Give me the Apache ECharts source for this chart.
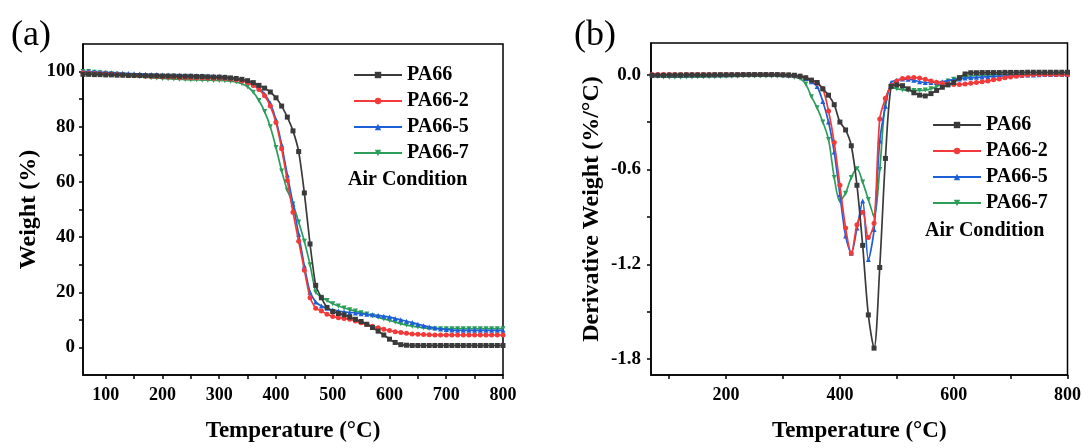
<!DOCTYPE html>
<html>
<head>
<meta charset="utf-8">
<script src="https://cdn.jsdelivr.net/npm/echarts@6/dist/echarts.min.js"></script>
<style>
html,body{margin:0;padding:0;background:#fff;}
#chart{width:1084px;height:448px;}
</style>
</head>
<body>
<div id="chart"></div>
<script>
// ---------- DATA ----------
const seriesNames = ['PA66', 'PA66-2', 'PA66-5', 'PA66-7'];

// (a) TGA: temperature (°C) and weight (%)
const tgaT = [60,70,80,90,100,110,120,130,140,150,
  160,170,180,190,200,210,220,230,240,250,
  260,270,280,290,300,310,320,330,340,350,
  360,370,380,390,400,410,420,430,440,450,
  460,470,480,490,500,510,520,530,540,550,
  560,570,580,590,600,610,620,630,640,650,
  660,670,680,690,700,710,720,730,740,750,
  760,770,780,790,800];
const tgaPA66 = [99.0,99.0,98.9,98.9,98.8,98.8,98.7,98.7,98.6,98.6,
  98.6,98.5,98.5,98.5,98.4,98.4,98.4,98.3,98.3,98.3,
  98.2,98.2,98.1,98.0,98.0,97.9,97.7,97.5,97.2,96.7,
  96.0,95.0,94.0,92.6,90.5,87.5,83.5,78.5,71.0,56.0,
  37.5,22.5,18.0,14.5,13.0,12.3,11.8,11.0,10.2,9.4,
  8.4,7.2,5.9,4.5,3.0,1.8,1.0,0.8,0.7,0.7,
  0.7,0.7,0.7,0.7,0.7,0.7,0.7,0.7,0.7,0.7,
  0.7,0.7,0.7,0.7,0.7];
const tgaPA66_2 = [99.5,99.4,99.3,99.2,99.1,99.0,98.9,98.8,98.7,98.6,
  98.5,98.4,98.3,98.2,98.1,98.0,98.0,97.9,97.9,97.8,
  97.8,97.7,97.7,97.6,97.6,97.5,97.3,97.0,96.6,96.0,
  95.0,93.5,91.2,87.5,81.5,72.0,60.5,49.0,38.5,28.0,
  18.0,14.2,13.2,12.0,11.2,10.8,10.5,10.2,9.6,8.9,
  8.3,7.7,7.1,6.6,6.1,5.7,5.4,5.1,4.9,4.8,
  4.7,4.6,4.5,4.5,4.5,4.5,4.5,4.5,4.5,4.5,
  4.5,4.5,4.5,4.5,4.5];
const tgaPA66_5 = [100.0,100.0,99.9,99.8,99.7,99.6,99.5,99.4,99.3,99.2,
  99.1,99.0,98.9,98.9,98.8,98.8,98.7,98.7,98.6,98.6,
  98.5,98.5,98.4,98.3,98.2,98.0,97.8,97.5,97.0,96.4,
  95.5,94.0,91.8,88.5,82.5,73.5,62.5,52.0,41.0,29.5,
  20.0,16.5,15.0,14.2,13.6,13.2,12.9,12.7,12.5,12.2,
  12.0,11.8,11.6,11.3,11.0,10.5,10.0,9.5,9.0,8.4,
  7.9,7.4,7.0,6.7,6.5,6.3,6.2,6.2,6.2,6.2,
  6.2,6.2,6.2,6.2,6.2];
const tgaPA66_7 = [100.0,100.0,99.8,99.6,99.4,99.2,99.0,98.8,98.6,98.4,
  98.2,98.0,97.8,97.7,97.5,97.4,97.3,97.2,97.1,97.0,
  97.0,96.9,96.9,96.8,96.8,96.7,96.5,96.2,95.6,94.5,
  92.5,89.5,85.5,80.0,72.5,64.0,57.0,52.0,45.5,38.5,
  30.0,20.0,18.2,17.0,15.8,15.0,14.3,13.7,13.2,12.6,
  12.1,11.5,10.9,10.3,9.8,9.2,8.6,8.1,7.7,7.4,
  7.1,6.9,6.8,6.8,6.8,6.8,6.8,6.8,6.8,6.8,
  6.8,6.8,6.8,6.8,6.8];

// (b) DTG: temperature (°C) and derivative weight (%/°C)
const dtgT = [70,80,90,100,110,120,130,140,150,160,
  170,180,190,200,210,220,230,240,250,260,
  270,280,290,300,310,320,330,340,350,360,
  370,380,390,400,410,420,430,440,450,460,
  470,480,490,500,510,520,530,540,550,560,
  570,580,590,600,610,620,630,640,650,660,
  670,680,690,700,710,720,730,740,750,760,
  770,780,790,800];
const dtgPA66 = [-0.005,-0.004,-0.004,-0.003,-0.003,-0.003,-0.002,-0.002,-0.002,-0.002,
  -0.002,-0.001,-0.001,-0.001,-0.001,-0.001,0.000,0.000,0.000,0.000,
  0.000,0.000,0.000,-0.001,-0.002,-0.004,-0.010,-0.020,-0.035,-0.050,
  -0.090,-0.130,-0.190,-0.300,-0.350,-0.450,-0.700,-1.080,-1.520,-1.730,
  -1.220,-0.530,-0.075,-0.065,-0.070,-0.090,-0.115,-0.130,-0.135,-0.120,
  -0.100,-0.080,-0.065,-0.050,-0.020,0.004,0.012,0.012,0.013,0.013,
  0.013,0.013,0.014,0.014,0.014,0.014,0.015,0.015,0.015,0.015,
  0.015,0.015,0.015,0.015];
const dtgPA66_2 = [0.000,0.000,0.000,0.000,0.000,0.000,0.000,0.000,0.000,0.000,
  0.000,0.000,0.000,0.000,0.000,0.000,0.000,0.000,0.000,0.000,
  0.000,0.000,-0.001,-0.001,-0.002,-0.005,-0.010,-0.020,-0.035,-0.055,
  -0.090,-0.230,-0.430,-0.700,-0.970,-1.130,-0.950,-0.870,-1.030,-0.940,
  -0.280,-0.150,-0.070,-0.040,-0.025,-0.020,-0.018,-0.022,-0.030,-0.040,
  -0.048,-0.055,-0.060,-0.062,-0.062,-0.060,-0.055,-0.050,-0.045,-0.040,
  -0.033,-0.027,-0.020,-0.015,-0.010,-0.006,-0.003,0.000,0.000,0.000,
  0.000,0.000,0.000,0.000];
const dtgPA66_5 = [-0.002,-0.002,-0.002,-0.002,-0.002,-0.002,-0.002,-0.002,-0.001,-0.001,
  -0.001,-0.001,-0.001,-0.001,0.000,0.000,0.000,0.000,0.000,0.000,
  0.000,0.000,0.000,-0.001,-0.003,-0.006,-0.012,-0.025,-0.045,-0.075,
  -0.170,-0.300,-0.490,-0.760,-1.020,-1.130,-0.970,-0.800,-1.170,-0.980,
  -0.420,-0.200,-0.050,-0.035,-0.028,-0.030,-0.035,-0.045,-0.050,-0.050,
  -0.050,-0.045,-0.038,-0.032,-0.027,-0.022,-0.020,-0.017,-0.015,-0.013,
  -0.011,-0.010,-0.008,-0.006,-0.005,-0.004,-0.003,-0.002,-0.001,0.000,
  0.000,0.000,0.000,0.000];
const dtgPA66_7 = [-0.008,-0.012,-0.015,-0.016,-0.016,-0.016,-0.015,-0.015,-0.014,-0.014,
  -0.013,-0.013,-0.012,-0.011,-0.010,-0.010,-0.009,-0.009,-0.008,-0.008,
  -0.008,-0.008,-0.009,-0.010,-0.012,-0.016,-0.025,-0.060,-0.140,-0.210,
  -0.300,-0.410,-0.650,-0.800,-0.750,-0.650,-0.595,-0.680,-0.790,-0.895,
  -0.600,-0.170,-0.080,-0.090,-0.095,-0.100,-0.100,-0.100,-0.098,-0.090,
  -0.075,-0.055,-0.040,-0.030,-0.020,-0.012,-0.008,-0.005,-0.003,-0.002,
  -0.001,0.000,0.000,0.000,0.000,0.000,0.000,0.000,0.000,0.000,
  0.000,0.000,0.000,0.000];

// tick labels
const tgaXLabels = [100,200,300,400,500,600,700,800];
const tgaXTicks = [100,150,200,250,300,350,400,450,500,550,600,650,700,750,800];
const tgaYLabels = [0,20,40,60,80,100];
const tgaYTicks = [0,10,20,30,40,50,60,70,80,90,100];
const dtgXLabels = [200,400,600,800];
const dtgXTicks = [100,200,300,400,500,600,700,800];
const dtgYLabels = [-1.8,-1.2,-0.6,0];
const dtgYTicks = [-1.8,-1.5,-1.2,-0.9,-0.6,-0.3,0];

// ---------- STYLE ----------
const FONT = '"Liberation Serif", "Times New Roman", serif';
const colors = ['#3a3a3a', '#f23a3a', '#1d5fd6', '#2c9d5b'];
const symbols = ['rect', 'circle', 'triangle', 'triangle'];
const rotates = [0, 0, 0, 180];

const zip = (xs, ys) => xs.map((x, i) => [x, ys[i]]);
const tgaSets = [tgaPA66, tgaPA66_2, tgaPA66_5, tgaPA66_7];
const dtgSets = [dtgPA66, dtgPA66_2, dtgPA66_5, dtgPA66_7];

function axisCommon() {
  return {
    axisLine: { show: true, onZero: false, lineStyle: { color: '#000', width: 1.5 } },
    splitLine: { show: false },
    nameTextStyle: { fontFamily: FONT, fontWeight: 'bold', color: '#000' }
  };
}

function mkSeries(setIdx, name, data, xi, yi, smooth) {
  return {
    type: 'line', name: name, xAxisIndex: xi, yAxisIndex: yi,
    data: data, smooth: smooth,
    symbol: symbols[setIdx], symbolSize: 5, symbolRotate: rotates[setIdx],
    showAllSymbol: true,
    lineStyle: { color: colors[setIdx], width: 1.7 },
    itemStyle: { color: colors[setIdx] },
    animation: false, z: 3 + (3 - setIdx)
  };
}

const series = [];
seriesNames.forEach((n, i) => series.push(mkSeries(i, n, zip(tgaT, tgaSets[i]), 0, 0, 0.15)));
seriesNames.forEach((n, i) => series.push(mkSeries(i, n, zip(dtgT, dtgSets[i]), 1, 1, 0.3)));

const legendText = { fontFamily: FONT, fontWeight: 'bold', fontSize: 20, color: '#000' };

const option = {
  backgroundColor: '#fff',
  animation: false,
  grid: [
    { left: 83, top: 44, width: 420, height: 336, show: true, borderColor: '#000', borderWidth: 1.5, backgroundColor: 'transparent' },
    { left: 651, top: 43, width: 417, height: 337, show: true, borderColor: '#000', borderWidth: 1.5, backgroundColor: 'transparent' }
  ],
  legend: [
    { data: seriesNames, left: 348, top: 60, orient: 'vertical', itemWidth: 48, itemHeight: 8, itemGap: 6,
      textStyle: legendText, selectedMode: false },
    { data: seriesNames, left: 927, top: 110, orient: 'vertical', itemWidth: 48, itemHeight: 8, itemGap: 6,
      textStyle: legendText, selectedMode: false }
  ],
  xAxis: [
    Object.assign(axisCommon(), {
      type: 'value', gridIndex: 0, min: 60, max: 800,
      name: 'Temperature (°C)', nameLocation: 'middle', nameGap: 45,
      axisLabel: { customValues: tgaXLabels, margin: 11, fontFamily: FONT, fontWeight: 'bold', fontSize: 18, color: '#000' },
      axisTick: { show: true, inside: false, length: 4, customValues: tgaXTicks, lineStyle: { color: '#000', width: 1.5 } }
    }),
    Object.assign(axisCommon(), {
      type: 'value', gridIndex: 1, min: 68, max: 800,
      name: 'Temperature (°C)', nameLocation: 'middle', nameGap: 45,
      axisLabel: { customValues: dtgXLabels, margin: 11, fontFamily: FONT, fontWeight: 'bold', fontSize: 18, color: '#000' },
      axisTick: { show: true, inside: false, length: 4, customValues: dtgXTicks, lineStyle: { color: '#000', width: 1.5 } }
    })
  ],
  yAxis: [
    Object.assign(axisCommon(), {
      type: 'value', gridIndex: 0, min: -10, max: 110,
      name: 'Weight (%)', nameLocation: 'middle', nameGap: 42,
      axisLabel: { customValues: tgaYLabels, margin: 8, fontFamily: FONT, fontWeight: 'bold', fontSize: 19, color: '#000' },
      axisTick: { show: true, inside: false, length: 4, customValues: tgaYTicks, lineStyle: { color: '#000', width: 1.5 } }
    }),
    Object.assign(axisCommon(), {
      type: 'value', gridIndex: 1, min: -1.9, max: 0.2,
      name: 'Derivative Weight (%/°C)', nameLocation: 'middle', nameGap: 47,
      axisLabel: { customValues: dtgYLabels, margin: 10, fontFamily: FONT, fontWeight: 'bold', fontSize: 19, color: '#000',
        formatter: v => Number(v).toFixed(1) },
      axisTick: { show: true, inside: false, length: 4, customValues: dtgYTicks, lineStyle: { color: '#000', width: 1.5 } }
    })
  ],
  graphic: [
    { type: 'text', left: 11, top: 18, style: { text: '(a)', font: '36px ' + FONT, fill: '#000' } },
    { type: 'text', left: 574, top: 18, style: { text: '(b)', font: '36px ' + FONT, fill: '#000' } },
    { type: 'text', left: 348, top: 170, style: { text: 'Air Condition', font: 'bold 20px ' + FONT, fill: '#000' } },
    { type: 'text', left: 925, top: 221, style: { text: 'Air Condition', font: 'bold 20px ' + FONT, fill: '#000' } }
  ],
  series: series
};
option.xAxis.forEach(a => a.nameTextStyle.fontSize = 23);
option.yAxis.forEach(a => a.nameTextStyle.fontSize = 24);

const chart = echarts.init(document.getElementById('chart'), null, { renderer: 'canvas' });
chart.setOption(option);
</script>
</body>
</html>
